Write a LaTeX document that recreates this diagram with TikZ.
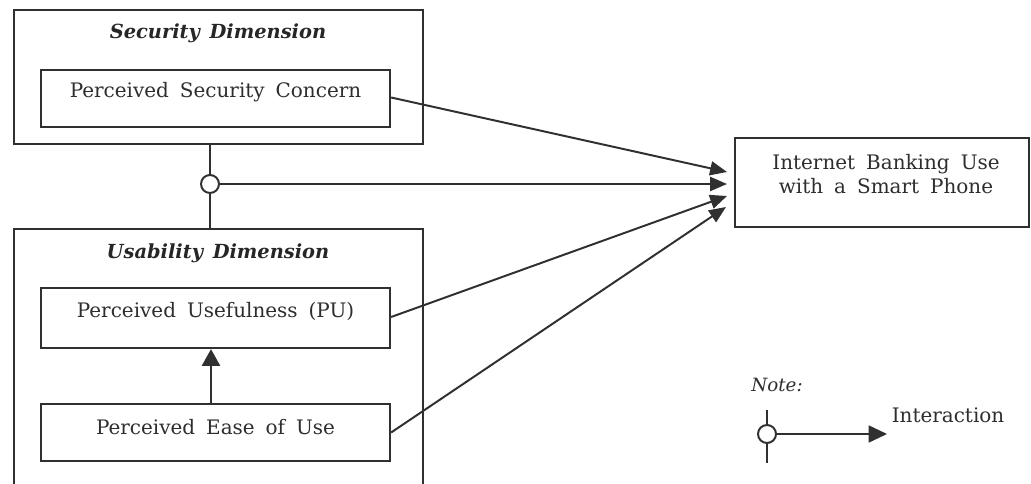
\documentclass[tikz,border=0pt]{standalone}
\usepackage{fontspec}
\setmainfont{DejaVu Serif}
\usetikzlibrary{arrows.meta}
\definecolor{ink}{HTML}{303030}
\definecolor{txt}{HTML}{2E2E2E}
\newcommand\lblfont{\fontsize{14.2pt}{17pt}\selectfont\spaceskip=0.55em plus 0.1em\relax}
\newcommand\ttlfont{\fontsize{13.8pt}{16pt}\selectfont\bfseries\itshape\spaceskip=0.5em plus 0.1em\relax}
\newcommand\notefont{\fontsize{13pt}{15pt}\selectfont\itshape}
\begin{document}
\begin{tikzpicture}[x=0.025cm,y=-0.025cm,
  box/.style={draw=ink, line width=1.6pt, inner sep=0pt},
  lbl/.style={text=txt, font=\lblfont, align=center, inner sep=0pt},
  ttl/.style={text=black!85, font=\ttlfont, inner sep=0pt},
  conn/.style={draw=ink, line width=1.4pt},
  arr/.style={conn, -{Triangle[length=12pt,width=10pt]}},
  ring/.style={circle, draw=ink, line width=1.4pt, fill=white, minimum size=18*0.025cm, inner sep=0pt}]
\useasboundingbox (0,0) rectangle (1031,484);
% security dimension
\node[box, minimum width=409*0.025cm, minimum height=134*0.025cm] (sec) at (218.5,77) {};
\node[ttl] (sectitle) at (218,33) {Security Dimension};
\node[box, minimum width=349*0.025cm, minimum height=57*0.025cm] (psc) at (215.5,98.5) {};
\node[lbl] (psctext) at (215.5,92) {Perceived Security Concern};
% usability dimension (cut off at the bottom)
\coordinate (ubl) at (14,490);
\coordinate (ubr) at (423,490);
\coordinate (utl) at (14,229);
\coordinate (utr) at (423,229);
\draw[ink, line width=1.6pt] (ubl) -- (utl) -- (utr) -- (ubr);
\node[ttl] (usetitle) at (218,253) {Usability Dimension};
\node[box, minimum width=349*0.025cm, minimum height=60*0.025cm] (pu) at (215.5,318) {};
\node[lbl] (putext) at (215.5,311) {Perceived Usefulness (PU)};
\node[box, minimum width=349*0.025cm, minimum height=57*0.025cm] (peu) at (215.5,432.5) {};
\node[lbl] (peutext) at (215.5,427) {Perceived Ease of Use};
% target
\node[box, minimum width=294*0.025cm, minimum height=89*0.025cm] (ibu) at (882,182.5) {};
\node[lbl] (ibutext) at (886,174.5) {Internet Banking Use\\with a Smart Phone};
% interaction
\node[ring] (int) at (210,184) {};
\draw[conn] (sec.south -| int) -- (int.north);
\draw[conn] (int.south) -- (utl -| int);
\coordinate (t1) at (727,172);
\coordinate (t2) at (727,184);
\coordinate (t3) at (727,196);
\coordinate (t4) at (726,207);
\draw[arr] (psc.east) ++(0,-1) -- (t1);
\draw[arr] (int.east) -- (t2);
\draw[arr] (pu.east) ++(0,-1) -- (t3);
\draw[arr] (peu.east) -- (t4);
\draw[arr, -{Triangle[length=12pt,width=13pt]}] (peu.north -| 211,0) -- (pu.south -| 211,0);
% note
\node[text=txt, font=\notefont, inner sep=0pt] (note) at (777,385) {Note:};
\node[ring] (lring) at (767,434) {};
\coordinate (ltop) at (767,410);
\coordinate (lbot) at (767,463);
\coordinate (lend) at (887,434);
\draw[conn] (ltop) -- (lring.north);
\draw[conn] (lring.south) -- (lbot);
\draw[arr, -{Triangle[length=13pt,width=12pt]}] (lring.east) -- (lend);
\node[lbl] (inter) at (948,415) {Interaction};
\end{tikzpicture}
\end{document}
